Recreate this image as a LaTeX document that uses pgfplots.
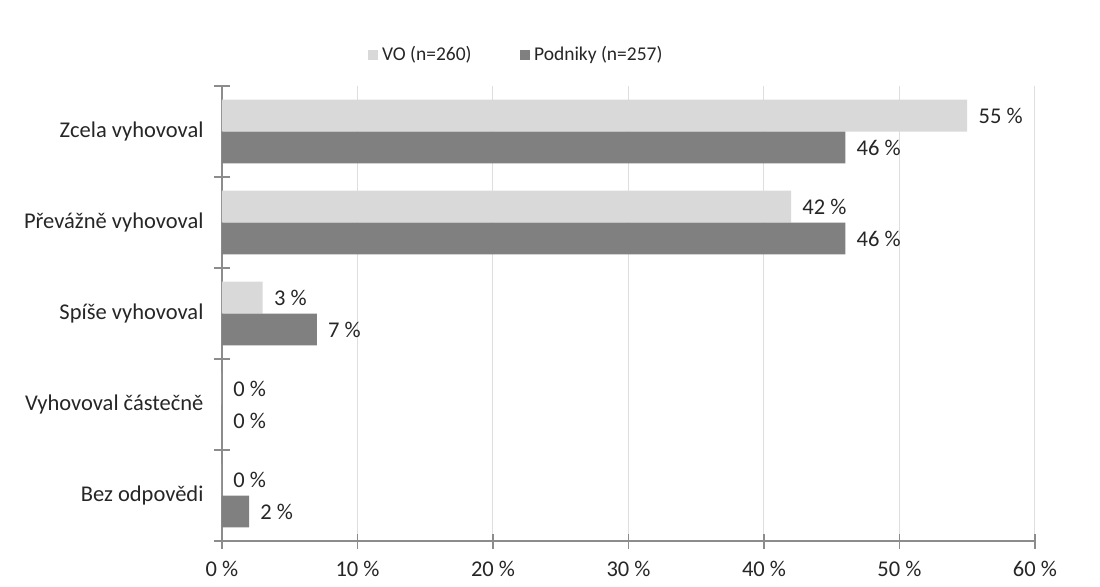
\documentclass[border=0pt]{standalone}
\usepackage{pgfplots}
\pgfplotsset{compat=1.18}
\usepackage{fontspec}
\setmainfont{Carlito}

\definecolor{voGray}{HTML}{D9D9D9}
\definecolor{podGray}{HTML}{808080}
\definecolor{axisGray}{HTML}{8C8C8C}
\definecolor{gridGray}{HTML}{DEDEDE}
\definecolor{txt}{HTML}{262626}

\begin{document}
\begin{tikzpicture}[font=\fontsize{11.25}{13.5}\selectfont, text=txt]
% picture frame: 1100x586 px at 0.5pt per px, plot area origin at px (222,541)
\path[use as bounding box] (-111pt,-22.5pt) rectangle (439pt,270.5pt);
\begin{axis}[
    at={(0,0)}, anchor=south west,
    scale only axis,
    width=406.5pt, height=227.5pt,
    xbar, bar width=0.35,
    y dir=reverse,
    xmin=0, xmax=60, ymin=-0.5, ymax=4.5,
    axis x line*=bottom, axis y line*=left,
    axis line style={axisGray, line width=0.6pt},
    xtick={0,10,...,60},
    xticklabel={\pgfmathprintnumber{\tick}~\%},
    xticklabel style={yshift=-3pt},
    ytick={0,1,2,3,4},
    yticklabels={Zcela vyhovoval, Převážně vyhovoval, Spíše vyhovoval, Vyhovoval částečně, Bez odpovědi},
    yticklabel style={xshift=-2pt},
    minor ytick={-0.5,0.5,...,4.5},
    major y tick style={draw=none},
    minor y tick style={axisGray, line width=0.6pt},
    major x tick style={axisGray, line width=0.6pt},
    major tick length=7.5pt, minor tick length=8pt,
    tick align=center,
    xmajorgrids, grid style={gridGray, line width=0.5pt},
    /pgf/number format/assume math mode=true,
    nodes near coords={\pgfmathprintnumber{\pgfplotspointmeta}~\%},
    nodes near coords style={anchor=west, inner sep=0pt, xshift=5.5pt, text=txt},
    legend columns=2,
    legend style={at={(0.363,1.068)}, anchor=center, draw=none, fill=none,
        font=\fontsize{9.75}{12}\selectfont,
        /tikz/every even column/.append style={column sep=22pt}},
    legend image code/.code={\fill[#1] (0pt,-2.6pt) rectangle (5.2pt,2.6pt);},
]
\addplot[draw=none, fill=voGray, bar shift=-0.175] coordinates {
  (55,0) (42,1) (3,2) (0,3) (0,4)};
\addlegendentry{VO (n=260)}
\addplot[draw=none, fill=podGray, bar shift=0.175] coordinates {
  (46,0) (46,1) (7,2) (0,3) (2,4)};
\addlegendentry{Podniky (n=257)}
\end{axis}
\end{tikzpicture}
\end{document}
